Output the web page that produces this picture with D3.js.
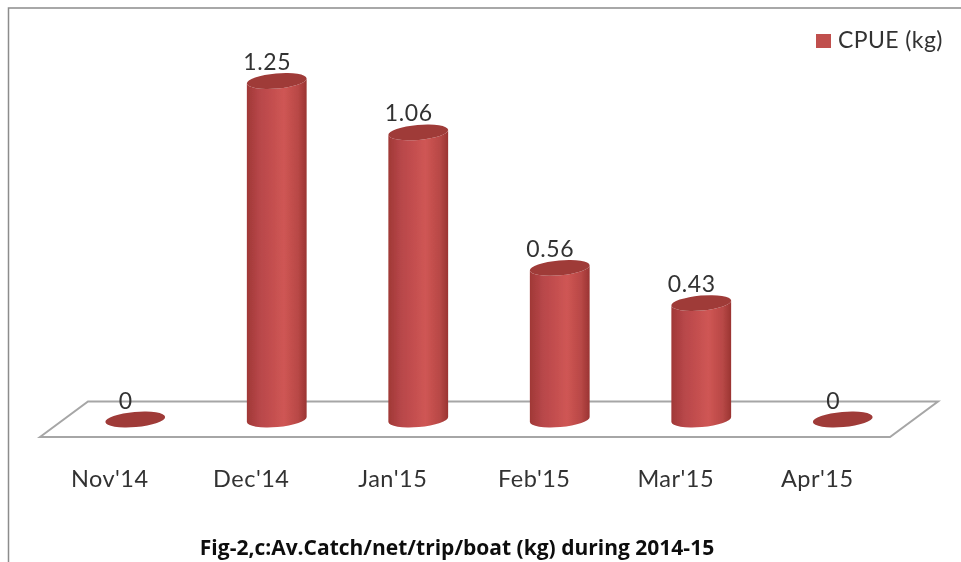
<!DOCTYPE html>
<html>
<head>
<meta charset="utf-8">
<script src="https://cdn.jsdelivr.net/npm/d3@7"></script>
<style>
  html, body { margin: 0; padding: 0; background: #fff; }
  svg { display: block; }
  text { font-family: Lato, "Open Sans", sans-serif; fill: #333; }
</style>
</head>
<body>
<svg id="chart" width="961" height="562"></svg>
<script>
// Chart values
var categories = ["Nov'14", "Dec'14", "Jan'15", "Feb'15", "Mar'15", "Apr'15"];
var cpue = [0, 1.25, 1.06, 0.56, 0.43, 0];
var seriesName = 'CPUE (kg)';
var figTitle = 'Fig-2,c:Av.Catch/net/trip/boat (kg) during 2014-15';

var svg = d3.select('#chart');
var baseY = 419.5, rx = 30, ry = 7.5, tilt = -5;
var dx = rx * Math.cos(tilt * Math.PI / 180), dy = rx * Math.sin(tilt * Math.PI / 180);

var xScale = d3.scaleBand().domain(categories).range([64.5, 913.5]);
var yScale = d3.scaleLinear().domain([0, 1.25]).range([baseY, 81]);
var cx = function(i){ return xScale(categories[i]) + xScale.bandwidth() / 2; };

// Cylinder shading
var defs = svg.append('defs');
var grad = defs.append('linearGradient').attr('id', 'cyl');
[[0, '#a03836'], [0.22, '#b8474a'], [0.62, '#cf5654'], [0.86, '#b84846'], [1, '#9a3432']].forEach(function(s){
  grad.append('stop').attr('offset', s[0]).attr('stop-color', s[1]);
});
var soft = defs.append('filter').attr('id', 'soft')
  .attr('filterUnits', 'userSpaceOnUse')
  .attr('x', 0).attr('y', 0).attr('width', 961).attr('height', 562);
soft.append('feGaussianBlur').attr('stdDeviation', 0.7);

var root = svg.append('g').attr('filter', 'url(#soft)');
var chart = root.append('g');

// Frame
chart.append('path').attr('d', 'M8.5,562V8H961').attr('fill', 'none')
  .attr('stroke', '#8c8c8c').attr('stroke-width', 1.5);

// Floor
chart.append('path').attr('d', 'M40,437L88,401.5H938L890,437Z')
  .attr('fill', '#fff').attr('stroke', '#a6a6a6').attr('stroke-width', 2);

// Bars
var bars = chart.selectAll('.bar').data(cpue).enter().append('g').attr('class', 'bar');

bars.filter(function(d){ return d > 0; }).append('path')
  .attr('fill', 'url(#cyl)')
  .attr('d', function(d){
    var c = cx(cpue.indexOf(d)), top = yScale(d);
    return 'M' + (c - dx) + ',' + (top - dy) + 'L' + (c - dx) + ',' + (baseY - dy) +
      'A' + rx + ',' + ry + ' ' + tilt + ' 0 0 ' + (c + dx) + ',' + (baseY + dy) +
      'L' + (c + dx) + ',' + (top + dy) +
      'A' + rx + ',' + ry + ' ' + tilt + ' 0 1 ' + (c - dx) + ',' + (top - dy) + 'Z';
  });

bars.append('ellipse')
  .attr('rx', rx).attr('ry', ry)
  .attr('fill', '#9f3a38')
  .attr('transform', function(d, i){ return 'translate(' + cx(i) + ',' + yScale(d) + ') rotate(' + tilt + ')'; });

// Value labels
root.selectAll('.val').data(cpue).enter().append('text')
  .attr('class', 'val')
  .attr('x', function(d, i){ return cx(i) - 9.5; })
  .attr('y', function(d){ return yScale(d) - 11; })
  .attr('text-anchor', 'middle')
  .style('font-size', '23px')
  .style('letter-spacing', '0.6px')
  .text(function(d){ return d; });

// Category axis
var axis = root.append('g').attr('transform', 'translate(-25.5,' + 470 + ')')
  .call(d3.axisBottom(xScale).tickSize(0).tickPadding(0));
axis.select('.domain').remove();
axis.selectAll('text').style('font-size', '23.5px').style('letter-spacing', '0.5px')
  .style('font-family', 'Lato, sans-serif').attr('fill', '#333');

// Legend
root.append('rect').attr('x', 816).attr('y', 34).attr('width', 15).attr('height', 14).attr('fill', '#c0504d');
root.append('text').attr('x', 838).attr('y', 48).style('font-size', '23px').style('letter-spacing', '0.4px').text(seriesName);

// Caption
root.append('text').attr('x', 457).attr('y', 555).attr('text-anchor', 'middle')
  .style('font-family', '"Open Sans", sans-serif')
  .style('font-size', '21px').style('font-weight', 700).style('fill', '#111').text(figTitle);
</script>
</body>
</html>
